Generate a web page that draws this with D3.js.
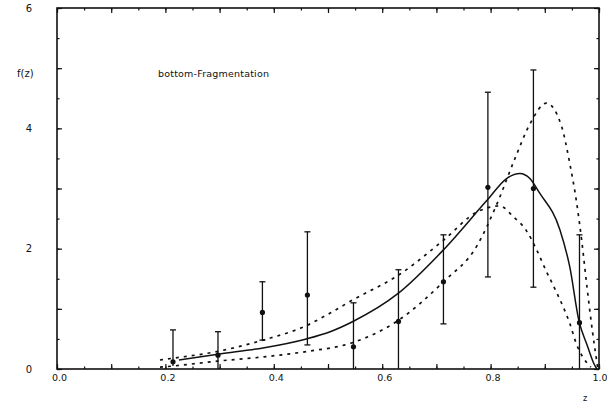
<!DOCTYPE html>
<html>
<head>
<meta charset="utf-8">
<script src="https://cdn.jsdelivr.net/npm/d3@7"></script>
<style>
  html, body { margin: 0; padding: 0; background: #fff; }
  svg { display: block; }
  text { font-family: "DejaVu Sans", sans-serif; fill: #111; }
</style>
</head>
<body>
<svg id="chart" width="607" height="408"></svg>
<script>
// ---- data ----
const title = "bottom-Fragmentation";
const yTitle = "f(z)";
const xTitle = "z";
const xTickLabels = [0.0, 0.2, 0.4, 0.6, 0.8, 1.0];
const yTickLabels = [0, 2, 4, 6];

// measured points: z, value, lower end, upper end
const dataZ    = [0.214, 0.297, 0.379, 0.462, 0.547, 0.630, 0.713, 0.795, 0.879, 0.964];
const dataF    = [0.12,  0.23,  0.94,  1.23,  0.37,  0.79,  1.45,  3.02,  3.00,  0.77];
const dataLow  = [0.05,  0.0,   0.48,  0.40,  0.0,   0.0,   0.75,  1.53,  1.36,  0.0];
const dataHigh = [0.65,  0.62,  1.45,  2.28,  1.10,  1.65,  2.23,  4.60,  4.97,  2.23];
const capBottom = [false, false, true, true, false, false, true, true, true, false];

// fitted curve (solid)
const solidZ = [0.225, 0.30, 0.38, 0.46, 0.504, 0.546, 0.63, 0.713, 0.795, 0.83, 0.854, 0.872, 0.89, 0.928, 0.946, 0.963, 0.978, 0.99, 0.996];
const solidF = [0.15,  0.25, 0.35, 0.50, 0.62,  0.79,  1.26, 1.98,  2.82,  3.17, 3.25,  3.17,  2.93,  2.31,  1.70,  0.80,  0.40,  0.10, 0.0];

// softer fragmentation (upper at low z, dashed)
const softZ = [0.19, 0.215, 0.295, 0.38, 0.46, 0.504, 0.546, 0.63, 0.713, 0.775, 0.817, 0.842, 0.866, 0.885, 0.903, 0.915, 0.934, 0.946, 0.959, 0.97, 0.985];
const softF = [0.15, 0.18,  0.29,  0.48, 0.72, 0.93,  1.15,  1.56, 2.14,  2.61,  2.71,  2.53,  2.30,  1.98,  1.62,  1.40,  1.03,  0.76,  0.40,  0.20, 0.03];

// harder fragmentation (lower at low z, dashed)
const hardZ = [0.19, 0.215, 0.295, 0.38, 0.46, 0.546, 0.63, 0.713, 0.775, 0.812, 0.845, 0.873, 0.903, 0.931, 0.946, 0.959, 0.968, 0.978, 0.988, 0.998];
const hardF = [0.03, 0.05,  0.13,  0.20, 0.29, 0.44,  0.81, 1.45,  2.05,  2.75,  3.50,  4.08,  4.42,  4.03,  3.42,  2.75,  2.14,  1.35,  0.62,  0.0];

// ---- drawing ----
const svg = d3.select("#chart");
const ink = "#111";
const x = d3.scaleLinear().domain([0, 1]).range([57, 599]);
const y = d3.scaleLinear().domain([0, 6]).range([369, 8]);

// tick marks (inward on all four sides)
const xMinor = d3.range(0, 1.0001, 0.05);
const xMajor = d3.range(0, 1.0001, 0.1);
const yMinor = d3.range(0, 6.0001, 0.5);
const yMajor = d3.range(0, 6.0001, 1);

function tickAxis(gen, vals, size, tr) {
  const g = svg.append("g").attr("transform", tr)
    .call(gen.tickValues(vals).tickSize(-size).tickFormat(""));
  g.select(".domain").remove();
  g.selectAll("line").attr("stroke", ink).attr("stroke-width", 1.2);
}
tickAxis(d3.axisBottom(x), xMinor, 2.5, "translate(0,369)");
tickAxis(d3.axisBottom(x), xMajor, 5, "translate(0,369)");
tickAxis(d3.axisTop(x), xMinor, 2.5, "translate(0,8)");
tickAxis(d3.axisTop(x), xMajor, 5, "translate(0,8)");
tickAxis(d3.axisLeft(y), yMinor, 2.5, "translate(57,0)");
tickAxis(d3.axisLeft(y), yMajor, 5, "translate(57,0)");
tickAxis(d3.axisRight(y), yMinor, 2.5, "translate(599,0)");
tickAxis(d3.axisRight(y), yMajor, 5, "translate(599,0)");

// frame
svg.append("rect")
  .attr("x", x(0)).attr("y", y(6))
  .attr("width", x(1) - x(0)).attr("height", y(0) - y(6))
  .attr("fill", "none").attr("stroke", ink).attr("stroke-width", 1.6);

// tick labels
const gx = svg.append("g").attr("transform", "translate(2,369)")
  .call(d3.axisBottom(x).tickValues(xTickLabels).tickSize(0).tickPadding(5).tickFormat(d3.format(".1f")));
gx.select(".domain").remove();
gx.selectAll("text").style("font-size", "9.5px").style("font-family", "DejaVu Sans, sans-serif").attr("fill", ink);
gx.selectAll("text").filter(d => d === 1.0).attr("text-anchor", "end").attr("x", 6);

const gy = svg.append("g").attr("transform", "translate(57,0)")
  .call(d3.axisLeft(y).tickValues(yTickLabels).tickSize(0).tickPadding(25).tickFormat(d3.format("d")));
gy.select(".domain").remove();
gy.selectAll("text").style("font-size", "10px").style("font-family", "DejaVu Sans, sans-serif").attr("fill", ink);

// titles
svg.append("text").attr("x", 17).attr("y", 77).style("font-size", "10px").text(yTitle);
svg.append("text").attr("x", 583).attr("y", 401).style("font-size", "8px").text(xTitle);
svg.append("text").attr("x", 158).attr("y", 77).style("font-size", "9.5px").style("letter-spacing", "0.2px").text(title);

// curves
const line = d3.line().x(d => x(d[0])).y(d => y(d[1])).curve(d3.curveMonotoneX);
function curve(zs, fs, dash) {
  svg.append("path")
    .datum(d3.zip(zs, fs))
    .attr("d", line)
    .attr("fill", "none")
    .attr("stroke", ink)
    .attr("stroke-width", dash ? 1.7 : 1.5)
    .attr("stroke-dasharray", dash || null);
}
curve(softZ, softF, "3,5");
curve(hardZ, hardF, "3,5");
curve(solidZ, solidF, null);

// error bars and points
const pts = dataZ.map((z, i) => ({ z, f: dataF[i], lo: dataLow[i], hi: dataHigh[i], cb: capBottom[i] }));
const gp = svg.append("g");
gp.selectAll("line.bar").data(pts).join("line")
  .attr("x1", d => x(d.z)).attr("x2", d => x(d.z))
  .attr("y1", d => y(d.lo)).attr("y2", d => y(d.hi))
  .attr("stroke", ink).attr("stroke-width", 1.3);
gp.selectAll("line.capt").data(pts).join("line")
  .attr("x1", d => x(d.z) - 3).attr("x2", d => x(d.z) + 3)
  .attr("y1", d => y(d.hi)).attr("y2", d => y(d.hi))
  .attr("stroke", ink).attr("stroke-width", 1.3);
gp.selectAll("line.capb").data(pts.filter(d => d.cb)).join("line")
  .attr("x1", d => x(d.z) - 3).attr("x2", d => x(d.z) + 3)
  .attr("y1", d => y(d.lo)).attr("y2", d => y(d.lo))
  .attr("stroke", ink).attr("stroke-width", 1.3);
gp.selectAll("circle").data(pts).join("circle")
  .attr("cx", d => x(d.z)).attr("cy", d => y(d.f)).attr("r", 2.6)
  .attr("fill", ink);
</script>
</body>
</html>
